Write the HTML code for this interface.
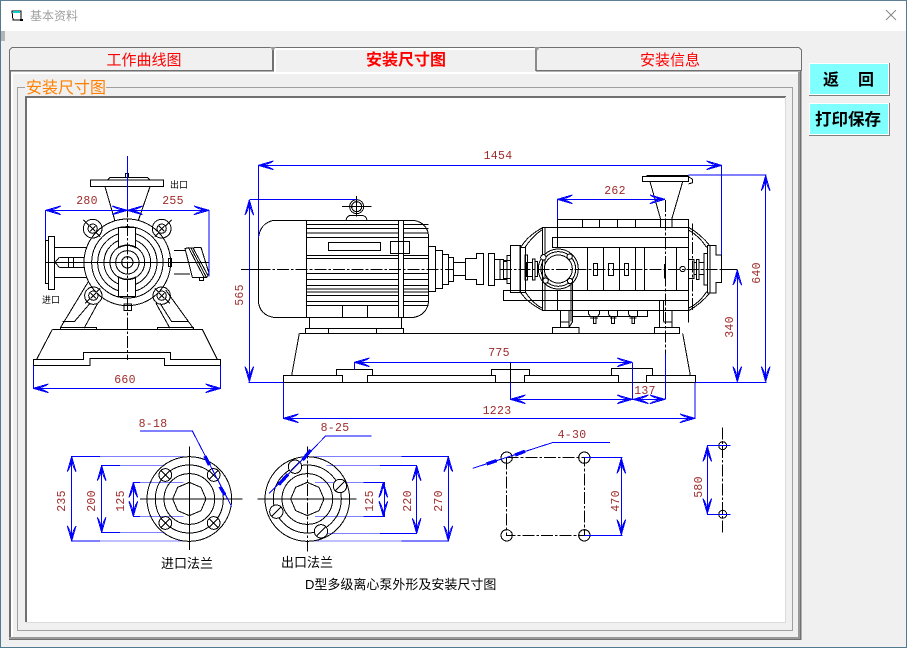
<!DOCTYPE html>
<html lang="zh">
<head>
<meta charset="utf-8">
<title>基本资料</title>
<style>
html,body{margin:0;padding:0;width:907px;height:648px;overflow:hidden;background:#f0f0f0}
svg{position:absolute;left:0;top:0}
text{font-family:"Liberation Sans","Noto Sans CJK SC",sans-serif}
.d{font-family:"Liberation Mono",monospace;font-size:11.5px;fill:#a02c2c;text-anchor:middle;letter-spacing:.3px}
.k{fill:none;stroke:#000;stroke-width:3}
.b{fill:none;stroke:#00f;stroke-width:3}
.l{fill:none;stroke:#8080ff;stroke-width:3}
.w{fill:#fff;stroke:#000;stroke-width:3}
.dd{stroke-dasharray:36 6 8 6}
</style>
</head>
<body>
<svg width="907" height="648" viewBox="0 0 907 648" xmlns="http://www.w3.org/2000/svg" shape-rendering="crispEdges">
<defs>
<g id="a"><path d="M0,0L-45,-13M0,0L-45,13M-45,-13Q-30,-3 -15,-2M-45,13Q-30,3 -15,2" fill="none" stroke="#00f" stroke-width="3"/><path d="M0,0L-18,-6V6Z" fill="#00f"/></g>
</defs>

<!-- window chrome -->
<rect width="907" height="648" fill="#f0f0f0"/>
<rect width="907" height="31" fill="#fff"/>
<rect width="907" height="1" fill="#5f7f96"/>
<rect y="0" width="1" height="648" fill="#4f7a90"/>
<rect x="906" y="0" width="1" height="648" fill="#4f7a90"/>
<rect y="647" width="907" height="1" fill="#4f7a90"/>
<rect x="1" y="31" width="4" height="10" fill="#b4b4b4"/>
<path d="M12,11H21V20H13Z" fill="#fff" stroke="#000"/><rect x="13" y="11" width="7" height="2" fill="#1cc"/><rect x="20" y="19" width="3" height="2" fill="#000"/>
<text x="30" y="20" font-size="12" fill="#a0a0a0">基本资料</text>
<path d="M886,10L896,20M896,10L886,20" stroke="#888" fill="none" shape-rendering="auto"/>

<!-- panel -->
<rect x="9" y="70" width="793" height="570" fill="#f0f0f0"/>
<rect x="9" y="71" width="2" height="568" fill="#707070"/>
<rect x="11" y="72" width="2" height="565" fill="#fff"/>
<rect x="13" y="72" width="785" height="2" fill="#fff"/>
<rect x="798" y="72" width="2" height="567" fill="#999"/>
<rect x="800" y="70" width="1.500" height="570" fill="#707070"/>
<rect x="9" y="637" width="791" height="2" fill="#999"/>
<rect x="9" y="639" width="792" height="1" fill="#707070"/>

<!-- tabs -->
<rect x="9" y="47" width="793" height="23" fill="#f0f0f0"/>
<path d="M9.500,71V50L12,47.500H272" fill="none" stroke="#707070" shape-rendering="auto"/>
<rect x="12" y="47" width="525" height="1" fill="#707070"/>
<rect x="537" y="47" width="262" height="1" fill="#707070"/>
<path d="M799,47.500L801.500,50V71" fill="none" stroke="#707070" shape-rendering="auto"/>
<rect x="272" y="48" width="2" height="23" fill="#707070"/>
<rect x="535" y="48" width="2" height="23" fill="#8a8a8a"/>
<rect x="9" y="70" width="265" height="1.500" fill="#707070"/>
<rect x="536" y="70" width="265" height="1.500" fill="#707070"/>
<rect x="274" y="48" width="261" height="2" fill="#fff"/>
<rect x="274" y="48" width="2" height="25" fill="#fff"/>
<path d="M270,47L276,47L273,51Z" fill="#999"/>
<path d="M534,47L540,47L537,51Z" fill="#999"/>
<text x="144" y="65" font-size="15" fill="#f00" text-anchor="middle">工作曲线图</text>
<text x="406" y="65" font-size="16" font-weight="bold" fill="#f00" text-anchor="middle">安装尺寸图</text>
<text x="670" y="65" font-size="15" fill="#f00" text-anchor="middle">安装信息</text>

<!-- groupbox -->
<rect x="17.500" y="87.500" width="775" height="543" fill="none" stroke="#a0a0a0"/>
<rect x="25" y="80" width="81" height="16" fill="#f0f0f0"/>
<text x="26" y="93" font-size="16" fill="#ff8000">安装尺寸图</text>
<!-- picture -->
<rect x="26" y="96" width="760" height="527" fill="#fff"/>
<rect x="25" y="96" width="761" height="2" fill="#707070"/>
<rect x="25" y="96" width="2" height="526" fill="#707070"/>
<rect x="26" y="622" width="760" height="1" fill="#dcdcdc"/>
<rect x="785" y="97" width="1" height="526" fill="#dcdcdc"/>

<!-- buttons -->
<rect x="809" y="63" width="81" height="33" fill="#808080"/>
<rect x="809" y="63" width="80" height="32" fill="#fff"/>
<rect x="810" y="64" width="78" height="30" fill="#80ffff"/>
<rect x="809" y="103" width="81" height="33" fill="#808080"/>
<rect x="809" y="103" width="80" height="32" fill="#fff"/>
<rect x="810" y="104" width="78" height="30" fill="#80ffff"/>
<text x="823" y="85" font-size="16" font-weight="bold" fill="#000">返</text>
<text x="858" y="85" font-size="16" font-weight="bold" fill="#000">回</text>
<text x="815" y="125" font-size="16.500" font-weight="bold" fill="#000">打印保存</text>

<!-- left view (zoom coordinates, 3x) -->
<g transform="matrix(.33333 0 0 .33333 20 140)">
<path class="k" d="M262,120L270,112H382L390,120M316,112V100H326V112"/>
<rect class="k" x="211" y="120" width="220" height="20"/>
<path class="k" d="M255,140L287,250M390,140L352,250M304,245H340"/>
<!-- legs -->
<path class="k" d="M208,420L122,562M232,492L192,565M210,490L163,545H128M437,450L520,565M408,490L450,565M420,490L455,545H505"/>
<rect class="k" x="122" y="562" width="108" height="6"/><rect class="k" x="413" y="562" width="108" height="6"/>
<!-- base -->
<path class="k" d="M97,568H547M97,568L50,658M547,568L592,658"/>
<path class="k" d="M40,658H190V637H452V658H602V676H433V656H210V676H40Z"/>
<!-- pipes -->
<rect class="k" x="77" y="302" width="8" height="128"/><rect class="k" x="85" y="289" width="19" height="160"/>
<path class="k" d="M104,322H200M104,412H200M118,352H195M118,382H195M118,352L105,367L118,382M145,352V382M160,352V382"/>
<path class="k" d="M462,332H495M462,402H510"/>
<path class="w" d="M495,325L543,322L567,400L560,412H517Z"/>
<path class="k" d="M505,322L552,412M512,322L558,410M518,322L563,405"/>
<rect class="k" x="538" y="412" width="12" height="10"/>
<!-- casing -->
<circle class="w" cx="322" cy="367" r="130"/>
<circle class="k" cx="218" cy="266" r="28"/><circle class="k" cx="425" cy="266" r="28"/>
<circle class="k" cx="220" cy="467" r="26"/><circle class="k" cx="425" cy="467" r="26"/>
<path class="k" d="M190,240L240,290M455,240L405,290M195,490L240,445M450,490L405,445"/>
<circle class="k" cx="322" cy="367" r="107"/>
<circle class="k" cx="322" cy="367" r="89"/>
<circle class="k" cx="322" cy="367" r="70"/>
<path class="w" d="M296,323V262H347V323Q322,310 296,323Z"/>
<path class="w" d="M296,411V470H347V411Q322,424 296,411Z"/>
<circle class="k" cx="322" cy="367" r="52"/>
<circle class="k" cx="322" cy="367" r="35"/>
<circle class="k" cx="322" cy="367" r="17"/>
<circle class="w" cx="218" cy="266" r="14"/><circle class="w" cx="425" cy="266" r="14"/>
<circle class="w" cx="220" cy="467" r="14"/><circle class="w" cx="425" cy="467" r="14"/>
<path class="k" d="M210,258L226,274M226,258L210,274M417,258L433,274M433,258L417,274M212,459L228,475M228,459L212,475M417,459L433,475M433,459L417,475"/>
<rect class="k" x="312" y="492" width="22" height="20"/>
<rect class="k" x="445" y="355" width="10" height="25"/>
<path class="k" d="M77,367H567"/>
<path class="k dd" d="M322,140V660"/>
<!-- dims -->
<path class="b" d="M322,48V210M77,300V211H567V410"/>
<path class="b" d="M40,676V745H602V676"/>
<use href="#a" transform="translate(77,211) rotate(180)"/>
<use href="#a" transform="translate(322,211)"/>
<use href="#a" transform="translate(322,211) rotate(180)"/>
<use href="#a" transform="translate(567,211)"/>
<use href="#a" transform="translate(40,745) rotate(180)"/>
<use href="#a" transform="translate(602,745)"/>
</g>

<!-- motor (zoom coordinates, 3x) -->
<g transform="matrix(.33333 0 0 .33333 240 140)">
<path class="k" d="M100,241H522Q566,250 566,295V485Q560,525 522,532H100Q60,525 55,485V295Q60,250 100,241Z"/>
<path class="k" d="M200,241V532M200,253H566M200,265H566M200,279H566M200,293H566M200,347H566M200,355H566M200,400H566M200,418H566M200,437H566M200,447H566M200,456H566M200,466H566M200,485H566M200,497H566M307,497V532M383,497V532"/>
<rect class="w" x="475" y="241" width="16" height="291"/>
<rect class="w" x="265" y="307" width="157" height="25"/>
<rect class="k" x="451" y="304" width="58" height="37"/>
<rect class="k" x="208" y="532" width="277" height="33"/>
<path class="k" d="M196,565H491V580H196ZM265,565V580M410,565V580"/>
<circle class="k" cx="350" cy="200" r="21"/><circle class="k" cx="350" cy="200" r="15"/>
<path class="k" d="M306,199H395M349,168V230M318,241Q320,226 335,226H365Q380,228 381,241"/>
<rect class="k" x="566" y="319" width="21" height="136"/>
<rect class="k" x="587" y="331" width="21" height="114"/>
<rect class="k" x="608" y="343" width="18" height="91"/>
<rect class="k" x="626" y="352" width="15" height="72"/>
<rect class="k" x="641" y="367" width="35" height="39"/>
<path class="k" d="M676,355H709V340H731V434H709V418H676Z"/>
<rect class="k" x="745" y="340" width="19" height="97"/>
<rect class="k" x="764" y="358" width="27" height="60"/>
<rect class="k" x="791" y="364" width="10" height="54"/>
<rect class="k" x="801" y="346" width="10" height="84"/>
<rect class="k" x="811" y="316" width="29" height="142"/>
<!-- base -->
<path class="k" d="M178,580H780M178,580L155,706M130,706H307V727H130ZM289,706V688H398V706M307,727H780M382,727V706H767V727M754,706V688H780"/>
<path class="k" d="M3,388H55"/>
<path class="k dd" d="M55,388H640"/>
<path class="b" d="M55,295V76H780M28,180V725M28,179H350M25,727H130M130,727V835H780"/>
<path class="b" d="M343,688V667H780"/>
<use href="#a" transform="translate(55,76) rotate(180)"/>
<use href="#a" transform="translate(28,180) rotate(-90)"/>
<use href="#a" transform="translate(28,725) rotate(90)"/>
<use href="#a" transform="translate(130,835) rotate(180)"/>
<use href="#a" transform="translate(343,667) rotate(180)"/>
</g>

<!-- pump (zoom coordinates, 3x) -->
<g transform="matrix(.33333 0 0 .33333 500 140)">
<path class="k" d="M0,580H538M548,580L571,706M0,727H587M73,727V706H356V727M0,688H89V706M334,706V686H458V706M439,727V706H587V727"/>
<rect class="k" x="157" y="562" width="80" height="18"/>
<rect class="k" x="463" y="562" width="76" height="18"/>
<path class="k" d="M181,510V562M207,512V562M478,482V562M490,482V545M516,512V562M181,546H207M490,546H516M218,430V545L207,562M213,432V545"/>
<!-- gauges -->
<rect class="k" x="218" y="512" width="225" height="18"/>
<path class="k" d="M266,512V522L272,530H292L298,522V512M325,512V522L331,530H353V512M385,512V522L391,530H413V512M280,530V550H288V530M335,530V550H343V530M396,530V550H404V530M270,534H294M330,534H350M388,534H410"/>
<!-- domes -->
<path class="k" d="M130,262Q85,285 62,322M125,270Q98,288 75,322M62,458Q85,490 130,512M75,455Q98,490 125,504"/>
<path class="k" d="M566,262Q605,285 630,318M566,270Q597,288 620,322M566,512Q605,490 630,458M566,504Q597,490 620,455"/>
<!-- body -->
<rect class="k" x="127" y="262" width="439" height="250"/>
<path class="k" d="M135,262V512"/>
<rect class="k" x="172" y="238" width="394" height="24"/>
<path class="k" d="M247,238V262M298,238V262M352,238V262M406,238V262M482,238V262M516,238V262"/>
<rect class="k" x="157" y="292" width="409" height="30"/>
<rect class="k" x="10" y="451" width="556" height="31"/>
<path class="k" d="M262,322V451M310,322V451M358,322V451M406,322V451M434,322V451M530,322V451"/>
<rect class="k" x="280" y="370" width="13" height="37"/>
<rect class="k" x="325" y="370" width="16" height="37"/>
<rect class="k" x="373" y="370" width="13" height="37"/>
<circle class="k" cx="548" cy="387" r="8"/>
<path d="M495,372V415" stroke="#000" stroke-width="5" fill="none"/>
<!-- inlet circle -->
<circle class="k" cx="175" cy="387" r="60"/>
<circle class="k" cx="175" cy="387" r="52"/>
<circle class="w" cx="175" cy="387" r="42"/>
<circle class="w" cx="130" cy="352" r="8"/><circle class="w" cx="209" cy="350" r="8"/><circle class="w" cx="137" cy="422" r="8"/><circle class="w" cx="210" cy="423" r="8"/>
<!-- shaft -->
<rect class="k" x="0" y="358" width="11" height="60"/>
<rect class="k" x="10" y="361" width="21" height="54"/>
<rect class="k" x="31" y="316" width="31" height="142"/>
<rect class="k" x="62" y="322" width="14" height="135"/>
<rect class="k" x="75" y="345" width="7" height="75"/>
<rect class="k" x="80" y="367" width="17" height="42"/>
<rect class="k" x="97" y="357" width="8" height="63"/>
<rect class="k" x="105" y="365" width="8" height="45"/>
<!-- right end -->
<rect class="k" x="566" y="358" width="16" height="57"/>
<rect class="k" x="582" y="368" width="8" height="36"/>
<rect class="k" x="590" y="358" width="7" height="60"/>
<rect class="k" x="597" y="368" width="15" height="36"/>
<rect class="k" x="612" y="340" width="10" height="95"/>
<path class="k" d="M622,316H648V345H665V428H648V459H622Z"/>
<path class="k" d="M630,316V459"/>
<path class="k" d="M665,388H712"/>
<path class="k dd" d="M0,388H665"/>
<!-- outlet -->
<rect class="k" x="427" y="109" width="138" height="16"/>
<path d="M440,107H565" stroke="#000" stroke-width="5" fill="none"/>
<path class="k" d="M565,110L578,118V128L565,132M450,125L482,238M548,125L515,238M566,482V548"/>
<path class="k dd" d="M578,250V512"/>
<path class="k" d="M172,238V322M172,450V510"/>
<path class="k dd" d="M497,180V640"/>
<!-- dims -->
<path class="b" d="M0,76H665V345M0,835H585V727M587,727H800M565,105H800M172,238V178H495M712,390V725M797,105V725M397,667V778M0,667H397M32,778H495M497,640V778"/>
<path class="k" d="M31,667V727"/>
<path class="b" d="M31,727V778"/>
<use href="#a" transform="translate(665,76)"/>
<use href="#a" transform="translate(585,835)"/>
<use href="#a" transform="translate(397,667)"/>
<use href="#a" transform="translate(172,178) rotate(180)"/>
<use href="#a" transform="translate(495,178)"/>
<use href="#a" transform="translate(31,778) rotate(180)"/>
<use href="#a" transform="translate(397,778)"/>
<use href="#a" transform="translate(400,778) rotate(180)"/>
<use href="#a" transform="translate(495,778)"/>
<use href="#a" transform="translate(712,390) rotate(-90)"/>
<use href="#a" transform="translate(712,725) rotate(90)"/>
<use href="#a" transform="translate(797,107) rotate(-90)"/>
<use href="#a" transform="translate(797,725) rotate(90)"/>
</g>

<!-- flanges (zoom coordinates, 3x) -->
<g transform="matrix(.33333 0 0 .33333 50 410)">
<path class="l" d="M150,140H400M150,393H400M210,167H345M210,367H345M270,217H400M270,319H400M790,140H1055M790,393H1055M830,167H990M830,370H990M795,217H940M795,319H940"/>
<path class="b" d="M150,140H65V393H150M210,167H155V367H210M270,217H250V319H270M1055,140H1195V393H1055M990,167H1100V370H990M940,217H1003V319H940"/>
<circle class="k" cx="418" cy="267" r="127"/><circle class="k" cx="418" cy="267" r="102"/><circle class="k" cx="418" cy="267" r="76"/>
<path class="k" d="M418,217L453,232L468,267L453,302L418,317L383,302L368,267L383,232Z"/>
<circle class="w" cx="346" cy="195" r="19"/><circle class="w" cx="491" cy="195" r="19"/><circle class="w" cx="346" cy="339" r="19"/><circle class="w" cx="491" cy="339" r="19"/>
<path class="k" d="M333,182L359,208M359,182L333,208M478,182L504,208M504,182L478,208M333,326L359,352M359,326L333,352M478,326L504,352M504,326L478,352"/>
<path class="k" d="M270,267H577M418,110V420"/>
<circle class="k" cx="772" cy="267" r="127"/><circle class="k" cx="772" cy="267" r="102"/><circle class="k" cx="772" cy="267" r="76"/>
<path class="k" d="M772,217L807,232L822,267L807,302L772,317L737,302L722,267L737,232Z"/>
<circle class="w" cx="735" cy="170" r="20"/><circle class="w" cx="870" cy="228" r="20"/><circle class="w" cx="679" cy="305" r="20"/><circle class="w" cx="813" cy="364" r="20"/>
<path class="k" d="M723,182L749,156M857,241L883,215M666,318L692,292M800,377L826,351"/>
<path class="k" d="M622,267H920"/>
<path class="k dd" d="M772,110V425"/>
<path class="b" d="M270,63H427L545,290M965,78H827L658,250"/>
<path d="M465,138L478,165M510,230L525,255M782,120L758,150M714,193L686,224" stroke="#00f" stroke-width="10" fill="none"/>
<use href="#a" transform="translate(65,140) rotate(-90)"/><use href="#a" transform="translate(65,393) rotate(90)"/>
<use href="#a" transform="translate(155,167) rotate(-90)"/><use href="#a" transform="translate(155,367) rotate(90)"/>
<use href="#a" transform="translate(250,217) rotate(-90)"/><use href="#a" transform="translate(250,319) rotate(90)"/>
<use href="#a" transform="translate(1000,217) rotate(-90)"/><use href="#a" transform="translate(1000,319) rotate(90)"/>
<use href="#a" transform="translate(1100,167) rotate(-90)"/><use href="#a" transform="translate(1100,370) rotate(90)"/>
<use href="#a" transform="translate(1195,140) rotate(-90)"/><use href="#a" transform="translate(1195,393) rotate(90)"/>
</g>

<!-- bolt pattern (zoom coordinates, 3x) -->
<g transform="matrix(.33333 0 0 .33333 470 420)">
<path class="k dd" d="M110,113H343V346H110Z"/>
<circle class="k" cx="110" cy="113" r="17"/><circle class="k" cx="343" cy="113" r="17"/><circle class="k" cx="110" cy="346" r="17"/><circle class="k" cx="343" cy="346" r="17"/>
<path class="b" d="M420,67H250L8,145M343,113H458M343,346H458M454,113V346"/>
<path d="M50,132L80,122M135,105L165,94" stroke="#00f" stroke-width="10" fill="none"/>
<use href="#a" transform="translate(454,115) rotate(-90)"/><use href="#a" transform="translate(454,344) rotate(90)"/>
<path class="k dd" d="M757,22V338"/>
<circle class="k" cx="758" cy="77" r="12"/><circle class="k" cx="758" cy="283" r="12"/>
<path class="b" d="M782,77H712V283H782"/>
<use href="#a" transform="translate(712,79) rotate(-90)"/><use href="#a" transform="translate(712,281) rotate(90)"/>
</g>

<!-- labels -->
<g shape-rendering="auto">
<text class="d" x="498" y="159">1454</text>
<text class="d" x="87" y="204">280</text>
<text class="d" x="173" y="204">255</text>
<text class="d" x="125" y="383">660</text>
<text class="d" x="615" y="194">262</text>
<text class="d" x="499" y="356">775</text>
<text class="d" x="497" y="414">1223</text>
<text class="d" x="645" y="394">137</text>
<text class="d" x="153" y="427">8-18</text>
<text class="d" x="335" y="431">8-25</text>
<text class="d" x="572" y="438">4-30</text>
<text class="d" transform="translate(243,295) rotate(-90)">565</text>
<text class="d" transform="translate(733,327) rotate(-90)">340</text>
<text class="d" transform="translate(760,273) rotate(-90)">640</text>
<text class="d" transform="translate(65,501) rotate(-90)">235</text>
<text class="d" transform="translate(95,501) rotate(-90)">200</text>
<text class="d" transform="translate(124,501) rotate(-90)">125</text>
<text class="d" transform="translate(373,501) rotate(-90)">125</text>
<text class="d" transform="translate(411,501) rotate(-90)">220</text>
<text class="d" transform="translate(442,501) rotate(-90)">270</text>
<text class="d" transform="translate(619,501) rotate(-90)">470</text>
<text class="d" transform="translate(702,487) rotate(-90)">580</text>
<text x="170" y="188" font-size="9" fill="#000">出口</text>
<text x="42" y="303" font-size="9" fill="#000">进口</text>
<text x="187" y="568" font-size="13" fill="#000" text-anchor="middle">进口法兰</text>
<text x="307" y="567" font-size="13" fill="#000" text-anchor="middle">出口法兰</text>
<text x="305" y="589" font-size="13" fill="#000">D型多级离心泵外形及安装尺寸图</text>
</g>
</svg>
</body>
</html>
